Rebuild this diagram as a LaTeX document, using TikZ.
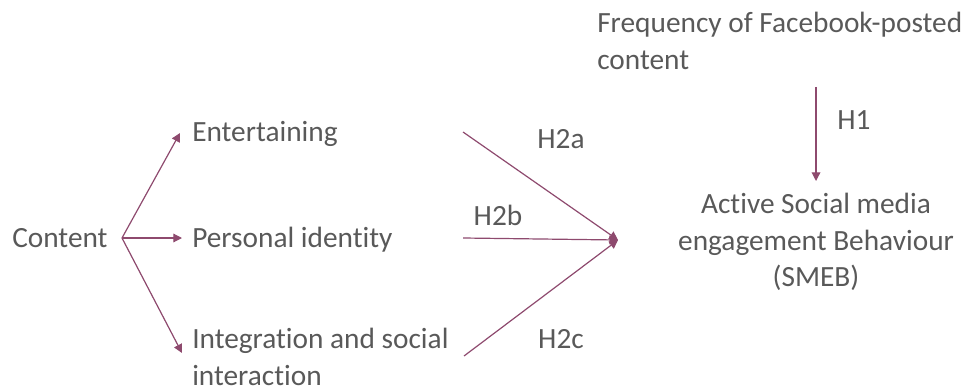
\documentclass[tikz,border=0pt]{standalone}
\usepackage{fontspec}
\setmainfont[Ligatures=NoCommon]{Carlito}
\usetikzlibrary{arrows.meta}
\definecolor{txtgray}{RGB}{89,89,89}
\definecolor{plum}{RGB}{142,74,110}
\tikzset{
  lbl/.style={text=txtgray, inner sep=0pt, font=\fontsize{22}{27.5}\selectfont},
  arr/.style={draw=plum, line width=0.9pt, -{Triangle[length=6.5pt,width=6.5pt]}},
}
\begin{document}
\begin{tikzpicture}[x=0.75pt, y=-0.75pt]
  \useasboundingbox (0,0) rectangle (969,388);
  % variables
  \node[lbl, anchor=base west] (content) at (12,247) {Content};
  \node[lbl, anchor=base west] (ent) at (192,142) {Entertaining};
  \node[lbl, anchor=base west] (pers) at (192,247) {Personal identity};
  \node[lbl, anchor=west, align=left] (integ) at (192,357) {Integration and social\\interaction};
  \node[lbl, anchor=north west, align=left] (freq) at (597,12) {Frequency of Facebook-posted\\content};
  \node[lbl, anchor=north, align=center] (smeb) at (816,193) {Active Social media\\engagement Behaviour\\(SMEB)};
  % branch and hub points
  \coordinate (branch) at (122,238);
  \coordinate (hub) at (618,240);
  \coordinate (sa) at (463,132);
  \coordinate (sb) at (463,238);
  \coordinate (sc) at (464,356);
  \coordinate (h1top) at (816,87);
  \coordinate (h1end) at (816,181);
  % content dimensions
  \draw[arr] (branch) -- (180,133);
  \draw[arr] (branch) -- (182,238);
  \draw[arr] (branch) -- (182,353);
  % hypotheses H2
  \draw[arr] (sa) -- (hub);
  \draw[arr] (sb) -- (hub);
  \draw[arr] (sc) -- (hub);
  % hypothesis H1
  \draw[arr] (h1top) -- (h1end);
  % labels
  \node[lbl, anchor=base] (h2a) at (561,149) {H2a};
  \node[lbl, anchor=base] (h2b) at (498,225) {H2b};
  \node[lbl, anchor=base] (h2c) at (561,348) {H2c};
  \node[lbl, anchor=base] (h1) at (854,130) {H1};
\end{tikzpicture}
\end{document}
